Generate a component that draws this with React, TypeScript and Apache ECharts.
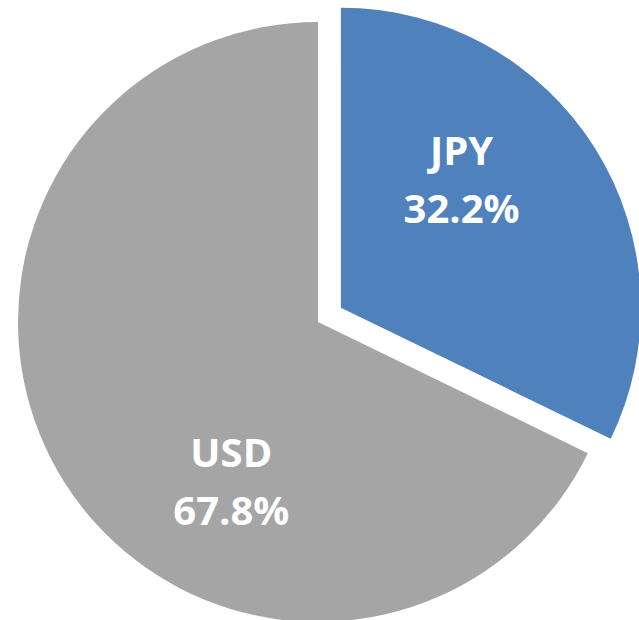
import React, { useEffect, useRef } from "react";
import * as echarts from "echarts";

const categories = ["JPY", "USD"];
const shares = [32.2, 67.8];
const colors = ["#4F81BD", "#A5A5A5"];
const labelOffsets: [number, number][] = [[-9, -48], [43, 77]];

export default function App() {
  const ref = useRef<HTMLDivElement>(null);
  useEffect(() => {
    document.body.style.margin = "0";
    const chart = echarts.init(ref.current!, null, { renderer: "svg" });
    chart.setOption({
      animation: false,
      backgroundColor: "#ffffff",
      series: [
        {
          type: "pie",
          center: [318, 322],
          radius: [0, 300],
          startAngle: 90,
          clockwise: true,
          selectedMode: "single",
          selectedOffset: 27,
          avoidLabelOverlap: false,
          emphasis: { disabled: true },
          itemStyle: { borderWidth: 0 },
          label: {
            show: true,
            position: "inside",
            color: "#ffffff",
            fontFamily: "Open Sans",
            fontWeight: "bold",
            fontSize: 40,
            lineHeight: 58,
            formatter: (p: any) => `${p.name}\n${p.value.toFixed(1)}%`,
          },
          labelLine: { show: false },
          data: categories.map((name, i) => ({
            name,
            value: shares[i],
            selected: i === 0,
            itemStyle: { color: colors[i] },
            label: { offset: labelOffsets[i] },
            select: {
              itemStyle: { color: colors[i] },
              label: { offset: labelOffsets[i] },
            },
          })),
        },
      ],
    });
    return () => chart.dispose();
  }, []);
  return <div ref={ref} style={{ width: 639, height: 620 }} />;
}
